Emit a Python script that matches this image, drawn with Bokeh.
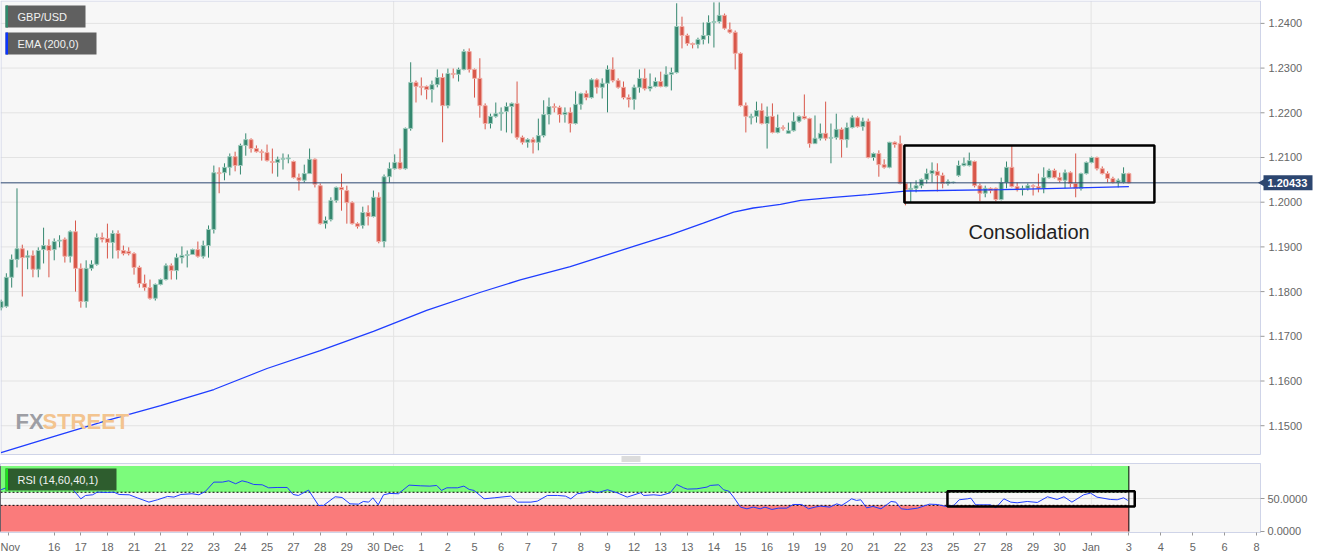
import math
from bokeh.plotting import figure
from bokeh.models import Range1d, FixedTicker, ColumnDataSource, BoxAnnotation, NumeralTickFormatter
from bokeh.layouts import column
from bokeh.embed import file_html
from bokeh.resources import INLINE
from bokeh.core.properties import value

# ---------------- data (4H candles GBP/USD) ----------------
open_ = [1.1764,1.1767,1.1832,1.1872,1.1896,1.1877,1.1881,1.1850,1.1894,1.1903,
         1.1894,1.1913,1.1917,1.1879,1.1934,1.1852,1.1778,1.1852,1.1861,1.1921,
         1.1919,1.1910,1.1930,1.1892,1.1890,1.1885,1.1854,1.1818,1.1809,1.1785,
         1.1816,1.1827,1.1858,1.1847,1.1876,1.1881,1.1883,1.1894,1.1879,1.1903,
         1.1939,1.2066,1.2066,1.2078,1.2102,1.2082,1.2127,1.2140,1.2120,1.2113,
         1.2111,1.2091,1.2089,1.2096,1.2097,1.2091,1.2055,1.2049,1.2064,1.2096,
         1.2037,1.1952,1.1961,1.2004,1.2033,1.2026,1.1999,1.1952,1.1948,1.1977,
         1.1968,1.2011,1.1912,1.2057,1.2075,1.2089,1.2075,1.2165,1.2268,1.2259,
         1.2259,1.2252,1.2263,1.2279,1.2216,1.2288,1.2286,1.2297,1.2337,1.2297,
         1.2277,1.2216,1.2176,1.2192,1.2198,1.2203,1.2214,1.2221,1.2145,1.2134,
         1.2140,1.2134,1.2149,1.2196,1.2214,1.2212,1.2196,1.2201,1.2176,1.2219,
         1.2243,1.2234,1.2274,1.2257,1.2266,1.2297,1.2272,1.2257,1.2234,1.2230,
         1.2257,1.2277,1.2254,1.2259,1.2270,1.2259,1.2286,1.2290,1.2393,1.2373,
         1.2355,1.2353,1.2364,1.2373,1.2402,1.2404,1.2418,1.2386,1.2380,1.2333,
         1.2216,1.2189,1.2192,1.2205,1.2176,1.2192,1.2156,1.2167,1.2154,1.2160,
         1.2181,1.2192,1.2187,1.2131,1.2143,1.2154,1.2143,1.2145,1.2163,1.2140,
         1.2167,1.2189,1.2169,1.2181,1.2100,1.2109,1.2084,1.2078,1.2134,1.2131,
         1.2042,1.2028,1.2031,1.2037,1.2051,1.2064,1.2069,1.2060,1.2042,1.2044,
         1.2060,1.2082,1.2082,1.2091,1.2037,1.2020,1.2031,1.2031,1.2006,1.2044,
         1.2078,1.2035,1.2028,1.2031,1.2037,1.2035,1.2031,1.2055,1.2071,1.2055,
         1.2049,1.2066,1.2042,1.2031,1.2064,1.2089,1.2100,1.2075,1.2064,1.2053,
         1.2044,1.2044,1.2064]
high = [1.1782,1.1841,1.1883,1.2031,1.1905,1.1892,1.1892,1.1899,1.1943,1.1917,
        1.1919,1.1926,1.1921,1.1937,1.1959,1.1863,1.1870,1.1870,1.1930,1.1932,
        1.1952,1.1937,1.1937,1.1903,1.1899,1.1888,1.1858,1.1838,1.1827,1.1818,
        1.1829,1.1863,1.1863,1.1885,1.1901,1.1892,1.1896,1.1912,1.1914,1.1948,
        1.2082,1.2078,1.2087,1.2109,1.2113,1.2131,1.2154,1.2143,1.2127,1.2118,
        1.2129,1.2120,1.2102,1.2109,1.2107,1.2093,1.2064,1.2084,1.2120,1.2098,
        1.2042,1.1968,1.2011,1.2035,1.2064,1.2037,1.2002,1.1955,1.1990,1.1993,
        1.2026,1.2022,1.2062,1.2089,1.2107,1.2120,1.2167,1.2313,1.2272,1.2279,
        1.2261,1.2272,1.2297,1.2288,1.2299,1.2299,1.2301,1.2342,1.2344,1.2299,
        1.2322,1.2221,1.2198,1.2223,1.2212,1.2223,1.2223,1.2270,1.2149,1.2143,
        1.2145,1.2187,1.2228,1.2234,1.2221,1.2216,1.2212,1.2212,1.2248,1.2245,
        1.2250,1.2277,1.2277,1.2277,1.2306,1.2324,1.2277,1.2270,1.2241,1.2263,
        1.2297,1.2299,1.2288,1.2279,1.2292,1.2304,1.2301,1.2445,1.2415,1.2377,
        1.2357,1.2368,1.2402,1.2418,1.2447,1.2447,1.2422,1.2402,1.2384,1.2335,
        1.2223,1.2198,1.2225,1.2221,1.2214,1.2221,1.2196,1.2172,1.2178,1.2201,
        1.2194,1.2241,1.2189,1.2194,1.2176,1.2225,1.2176,1.2198,1.2167,1.2178,
        1.2194,1.2192,1.2189,1.2187,1.2111,1.2116,1.2096,1.2135,1.2136,1.2149,
        1.2044,1.2044,1.2049,1.2053,1.2075,1.2089,1.2087,1.2066,1.2051,1.2046,
        1.2093,1.2100,1.2111,1.2093,1.2042,1.2037,1.2033,1.2033,1.2055,1.2091,
        1.2127,1.2044,1.2037,1.2042,1.2040,1.2064,1.2078,1.2075,1.2075,1.2066,
        1.2073,1.2069,1.2109,1.2066,1.2091,1.2102,1.2102,1.2080,1.2069,1.2057,
        1.2053,1.2078,1.2066]
low = [1.1758,1.1764,1.1809,1.1854,1.1789,1.1850,1.1832,1.1832,1.1863,1.1832,
       1.1870,1.1899,1.1865,1.1865,1.1800,1.1764,1.1764,1.1847,1.1858,1.1910,
       1.1874,1.1874,1.1874,1.1881,1.1881,1.1838,1.1809,1.1802,1.1782,1.1780,
       1.1814,1.1825,1.1827,1.1827,1.1863,1.1854,1.1883,1.1876,1.1874,1.1876,
       1.1930,1.2020,1.2049,1.2060,1.2069,1.2062,1.2104,1.2111,1.2111,1.2093,
       1.2091,1.2064,1.2057,1.2073,1.2087,1.2053,1.2026,1.2044,1.2064,1.2033,
       1.1950,1.1941,1.1957,1.1999,1.1981,1.1952,1.1950,1.1941,1.1941,1.1948,
       1.1966,1.1908,1.1899,1.2044,1.2073,1.2073,1.2073,1.2160,1.2223,1.2239,
       1.2230,1.2223,1.2257,1.2134,1.2210,1.2277,1.2270,1.2295,1.2290,1.2234,
       1.2189,1.2163,1.2165,1.2189,1.2160,1.2156,1.2154,1.2140,1.2129,1.2122,
       1.2109,1.2116,1.2145,1.2174,1.2201,1.2178,1.2178,1.2156,1.2174,1.2207,
       1.2228,1.2232,1.2243,1.2232,1.2201,1.2268,1.2254,1.2230,1.2212,1.2207,
       1.2245,1.2250,1.2248,1.2257,1.2257,1.2257,1.2250,1.2288,1.2344,1.2350,
       1.2344,1.2344,1.2353,1.2355,1.2346,1.2400,1.2386,1.2377,1.2297,1.2214,
       1.2156,1.2174,1.2178,1.2174,1.2120,1.2154,1.2154,1.2160,1.2154,1.2158,
       1.2178,1.2185,1.2122,1.2131,1.2138,1.2138,1.2087,1.2140,1.2100,1.2122,
       1.2165,1.2167,1.2160,1.2098,1.2093,1.2057,1.2075,1.2076,1.2122,1.2040,
       1.1993,1.1999,1.2022,1.2031,1.2042,1.2044,1.2024,1.2031,1.2037,1.2042,
       1.2057,1.2080,1.2080,1.2033,1.2002,1.2011,1.2020,1.2002,1.2004,1.2031,
       1.2033,1.2024,1.2015,1.2026,1.2015,1.2022,1.2020,1.2053,1.2053,1.2044,
       1.2031,1.2033,1.2011,1.2026,1.2062,1.2087,1.2071,1.2062,1.2044,1.2042,
       1.2033,1.2042,1.2042]
close = [1.1778,1.1832,1.1872,1.1896,1.1876,1.1880,1.1850,1.1892,1.1903,1.1892,
         1.1912,1.1915,1.1879,1.1934,1.1852,1.1778,1.1852,1.1861,1.1921,1.1917,
         1.1910,1.1930,1.1892,1.1885,1.1885,1.1854,1.1818,1.1809,1.1785,1.1816,
         1.1827,1.1858,1.1847,1.1876,1.1881,1.1883,1.1894,1.1879,1.1903,1.1939,
         1.2066,1.2064,1.2078,1.2102,1.2082,1.2127,1.2140,1.2120,1.2113,1.2111,
         1.2093,1.2089,1.2096,1.2098,1.2099,1.2055,1.2049,1.2064,1.2096,1.2040,
         1.1952,1.1959,1.2004,1.2033,1.2028,1.1999,1.1952,1.1946,1.1977,1.1968,
         1.2011,1.1912,1.2057,1.2075,1.2089,1.2075,1.2165,1.2268,1.2259,1.2257,
         1.2252,1.2263,1.2279,1.2216,1.2288,1.2286,1.2297,1.2337,1.2297,1.2277,
         1.2216,1.2176,1.2192,1.2198,1.2201,1.2214,1.2221,1.2145,1.2134,1.2140,
         1.2134,1.2149,1.2196,1.2214,1.2212,1.2196,1.2201,1.2176,1.2219,1.2243,
         1.2234,1.2274,1.2257,1.2266,1.2297,1.2272,1.2257,1.2234,1.2230,1.2257,
         1.2277,1.2254,1.2259,1.2270,1.2259,1.2286,1.2290,1.2393,1.2373,1.2355,
         1.2353,1.2364,1.2373,1.2402,1.2404,1.2418,1.2389,1.2380,1.2333,1.2216,
         1.2192,1.2192,1.2205,1.2176,1.2192,1.2156,1.2167,1.2165,1.2160,1.2181,
         1.2192,1.2187,1.2131,1.2143,1.2154,1.2143,1.2145,1.2163,1.2140,1.2167,
         1.2189,1.2169,1.2181,1.2100,1.2109,1.2084,1.2078,1.2134,1.2129,1.2042,
         1.2028,1.2031,1.2037,1.2051,1.2064,1.2071,1.2060,1.2042,1.2046,1.2045,
         1.2082,1.2087,1.2093,1.2037,1.2020,1.2031,1.2026,1.2006,1.2044,1.2078,
         1.2035,1.2028,1.2031,1.2037,1.2035,1.2031,1.2055,1.2071,1.2055,1.2049,
         1.2066,1.2042,1.2031,1.2064,1.2089,1.2100,1.2075,1.2064,1.2053,1.2044,
         1.2049,1.2064,1.20433]

ema_idx = [0, 10, 20, 30, 40, 50, 60, 70, 80, 90, 97.6, 107, 118.9, 125.8, 132, 137.7,
           141.4, 146.5, 150.3, 156.5, 163, 170, 188, 212]
ema_val = [1.1440, 1.1476, 1.1512, 1.1545, 1.1581, 1.1628, 1.1668, 1.1711, 1.1758,
           1.1798, 1.1826, 1.1856, 1.1901, 1.1927, 1.1953, 1.1978, 1.1987, 1.1995,
           1.2004, 1.2011, 1.2017, 1.2025, 1.2028, 1.2035]

rsi_idx = [0.0,1.3,3.1,5.0,6.9,8.1,10.0,11.9,12.8,13.4,15.0,15.9,17.2,18.1,20.0,21.2,22.2,24.1,25.6,27.8,
           29.4,31.3,32.5,33.8,35.9,37.2,38.4,40.0,41.6,42.8,44.1,45.3,46.3,47.5,49.1,50.3,51.9,53.8,54.9,55.9,
           57.8,59.7,60.6,62.8,64.1,65.6,67.2,68.1,69.1,69.9,70.9,71.9,73.1,74.7,76.7,78.8,80.6,81.9,82.8,83.8,
           84.6,85.8,87.0,88.0,88.9,90.8,92.7,95.8,97.1,99.6,100.8,102.7,104.6,106.1,107.1,108.3,109.6,110.8,112.1,114.0,
           115.8,117.7,120.2,120.8,122.7,124.0,125.8,127.0,128.3,129.0,130.8,132.7,133.3,134.9,135.8,136.8,137.7,139.0,140.2,141.4,
           142.7,143.6,144.9,146.1,147.7,148.9,150.5,151.8,153.0,154.0,155.8,157.1,158.0,159.0,159.9,160.8,161.6,162.7,163.9,
           165.4,166.3,167.3,168.2,169.2,170.4,172.3,174.5,176.0,177.6,179.1,180.1,181.7,182.3,183.2,186.0,187.0,188.5,189.8,191.0,
           192.9,194.8,196.7,198.5,199.8,201.3,203.5,204.8,206.0,208.5,209.8,211.0,211.8]
rsi_val = [63.8,67.9,70.4,68.9,66.8,65.3,67.3,66.8,67.9,65.3,50.0,55.1,56.1,60.2,59.7,60.2,56.6,56.1,51.5,44.9,
           48.5,53.6,52.6,56.6,57.7,56.1,61.2,75.5,75.5,77.5,73.0,77.5,75.5,71.9,71.4,66.8,67.3,67.3,56.6,55.1,
           63.3,39.8,39.8,53.1,52.0,42.3,41.8,45.9,44.9,51.5,40.8,56.1,58.2,57.7,70.9,69.9,69.4,70.4,62.8,66.8,
           66.8,66.8,69.4,64.3,62.8,50.0,51.5,54.1,44.9,44.9,46.4,55.1,55.1,54.1,50.0,57.7,59.2,62.2,59.2,63.8,
           59.2,52.6,59.2,55.1,56.1,55.1,59.2,71.9,66.8,64.8,65.3,67.9,70.4,71.4,63.8,61.7,52.6,37.3,34.7,37.3,
           34.7,37.3,33.7,35.7,35.7,41.3,41.3,34.7,37.3,38.8,37.3,42.3,39.8,44.9,50.0,47.5,48.5,36.2,38.3,
           34.7,39.8,45.9,44.9,34.7,33.7,35.7,41.8,41.3,38.3,39.8,48.5,50.0,51.0,40.8,40.8,36.2,50.0,44.9,43.9,
           45.9,44.4,53.1,49.0,53.1,44.9,56.1,58.7,52.6,49.0,48.5,51.5,47.5]

tick_pos = [1.4, 10, 15, 20, 25, 30, 35, 40, 45, 50, 55, 60, 65, 70, 73.8, 79, 84, 89, 94, 99,
            104, 109, 114, 119, 124, 129, 134, 139, 144, 149, 154, 159, 164, 169, 174, 179, 184,
            189, 194, 199, 204.9, 212, 218, 224, 230, 236]
tick_lab = ["Nov", "16", "17", "18", "21", "21", "22", "23", "24", "25", "27", "28", "29", "30",
            "Dec", "1", "2", "5", "6", "7", "7", "8", "9", "12", "13", "13", "14", "15", "16",
            "19", "19", "20", "21", "22", "23", "25", "27", "28", "29", "30", "Jan", "3", "4",
            "5", "6", "8"]
month_pos = [73.8, 204.9]
price_ticks = [1.15, 1.16, 1.17, 1.18, 1.19, 1.20, 1.21, 1.22, 1.23, 1.24]
rsi_ticks = [0, 50]
rsi_upper, rsi_lower = 60, 40

# consolidation boxes (data units)
cons_left, cons_right, cons_low, cons_high = 169.8, 216.8, 1.19993, 1.21268
rsi_box = (177.9, 213.1, 38.2, 61.6)

# ---------------- layout constants ----------------
BAR = 5.32                     # pixels per bar
W, MH, RH = 1331, 462, 69      # figure width, main figure height, RSI frame height
PW, PH = 1260, 454             # plot area (price) width / bottom in pixels
X_START = -0.1
X_END = X_START + W / BAR
Y_END = 1.24512
Y_START = Y_END - MH * 0.0002237
R_START, R_END = -1.53, 103.97
FONT = "Liberation Sans"
BORDER = "#cfd4e8"


def px_x(px):
    return X_START + px * (X_END - X_START) / W


def px_y(py):
    return Y_END - py * (Y_END - Y_START) / MH


def rpx_y(py):
    return R_END - (py - 463) * (R_END - R_START) / RH


def dpx(n):
    return n * (Y_END - Y_START) / MH


p = figure(frame_width=W, frame_height=MH, x_range=Range1d(X_START, X_END),
           y_range=Range1d(Y_START, Y_END), output_backend="svg", toolbar_location=None,
           x_axis_location=None, y_axis_location=None, min_border=0,
           background_fill_color="white", border_fill_color="white", outline_line_color=None)
p.grid.visible = False

XL, XR = px_x(0), px_x(PW)
YT, YB = px_y(0.5), px_y(PH)
# plot area background
p.quad(left=[XL], right=[XR], bottom=[YB], top=[YT], fill_color="#f7f7f7", line_color=None)
# grid
p.segment(x0=[XL] * len(price_ticks), x1=[XR] * len(price_ticks), y0=price_ticks,
          y1=price_ticks, line_color="#e3e3e3", line_width=1)
p.segment(x0=month_pos, x1=month_pos, y0=[YB] * 2, y1=[YT] * 2, line_color="#e3e3e3",
          line_width=1)
# frame border
p.segment(x0=[XL, XL, px_x(0.5), XR], x1=[XR, XR, px_x(0.5), XR], y0=[YT, YB, YB, YB],
          y1=[YT, YB, YT, YT], line_color=BORDER, line_width=1)

# candles
n = len(close)
idx = list(range(n))
up = [c >= o for o, c in zip(open_, close)]
src = ColumnDataSource(dict(
    x=idx, h=high, l=low,
    top=[max(o, c) for o, c in zip(open_, close)],
    bottom=[min(o, c) for o, c in zip(open_, close)],
    color=["#35876f" if u else "#d8574a" for u in up],
    outline=["#9ccabb" if u else "#f0aba3" for u in up],
))
p.segment(x0="x", y0="h", x1="x", y1="l", line_color="color", line_width=1, source=src)
p.vbar(x="x", width=0.74, top="top", bottom="bottom", fill_color="color",
       line_color="outline", line_width=1, source=src)

p.line(ema_idx, ema_val, line_color="#1f3dff", line_width=1.3)

# right price axis (drawn)
p.segment(x0=[XR] * len(price_ticks), x1=[px_x(PW + 4)] * len(price_ticks), y0=price_ticks,
          y1=price_ticks, line_color="#999999", line_width=1)
p.text(x=[px_x(PW + 8)] * len(price_ticks), y=price_ticks,
       text=[f"{t:.4f}" for t in price_ticks], text_font=value(FONT), text_font_size="11px",
       text_color="#666666", text_baseline="middle")

# current price line and tag
last_price = close[-1]
p.segment(x0=[XL], x1=[px_x(PW + 2)], y0=[last_price], y1=[last_price], line_color="#2c4670",
          line_width=1)
p.quad(left=[px_x(PW + 3)], right=[px_x(PW + 52)], bottom=[last_price - dpx(7.5)],
       top=[last_price + dpx(7.5)], fill_color="#2c4670", line_color=None)
p.scatter(x=[px_x(PW + 2)], y=[last_price], marker="triangle", angle=math.pi / 2, size=8,
          fill_color="#2c4670", line_color=None)
p.text(x=[px_x(PW + 7)], y=[last_price], text=[f"{last_price:.5f}"], text_font=value(FONT),
       text_font_size="11px", text_font_style="bold", text_color="white",
       text_baseline="middle")

# consolidation
p.add_layout(BoxAnnotation(left=cons_left, right=cons_right, bottom=cons_low, top=cons_high,
                           fill_alpha=0, line_color="black", line_alpha=1, line_width=2.5))
p.text(x=[px_x(968)], y=[px_y(231)], text=["Consolidation"], text_font=value(FONT),
       text_font_size="20px", text_color="#222222", text_baseline="middle")

# legend boxes
p.quad(left=[px_x(5), px_x(5)], right=[px_x(85), px_x(96)], top=[px_y(5), px_y(32)],
       bottom=[px_y(27), px_y(54)], fill_color="#606060", line_color=None)
p.quad(left=[px_x(5), px_x(5)], right=[px_x(7.5), px_x(7.5)], top=[px_y(5), px_y(32)],
       bottom=[px_y(27), px_y(54)], fill_color=["#2f8a6d", "#0a35ff"], line_color=None)
p.text(x=[px_x(17), px_x(17)], y=[px_y(16.5), px_y(43.5)], text=["GBP/USD", "EMA (200,0)"],
       text_font=value(FONT), text_font_size="11px", text_color="#f2f2f2",
       text_baseline="middle")

# watermark
p.text(x=[px_x(15)], y=[px_y(421)], text=["FX"], text_font=value(FONT),
       text_font_style="bold", text_font_size="22px", text_color="#9d9ea4",
       text_baseline="middle")
p.text(x=[px_x(42)], y=[px_y(421)], text=["STREET"], text_font=value(FONT),
       text_font_style="bold", text_font_size="22px", text_color="#f3c48f",
       text_baseline="middle")

# pane separator handle
hy = [px_y(456.5), px_y(458.5), px_y(460.5)]
p.segment(x0=[px_x(621)] * 3, x1=[px_x(640)] * 3, y0=hy, y1=hy, line_color="#8a8a8a",
          line_width=0.6)

# ---------------- RSI panel ----------------
r = figure(frame_width=PW, frame_height=RH, x_range=Range1d(X_START, px_x(PW)),
           y_range=Range1d(R_START, R_END), output_backend="svg", toolbar_location=None,
           y_axis_location="right", min_border_left=0, min_border_top=1,
           min_border_bottom=26, min_border_right=W - PW,
           background_fill_color="#f7f7f7", border_fill_color="white",
           outline_line_color=BORDER)
last = n - 1
r.quad(left=[X_START], right=[last], bottom=[rsi_upper], top=[100], fill_color="#7cfb7c",
       line_color=None)
r.quad(left=[X_START], right=[last], bottom=[0], top=[rsi_lower], fill_color="#fa7b7b",
       line_color=None)
r.segment(x0=[X_START, X_START], x1=[last, last], y0=[rsi_upper, rsi_lower],
          y1=[rsi_upper, rsi_lower], line_color="black", line_width=1, line_dash="2 2")
r.segment(x0=[X_START, last], x1=[X_START, last], y0=[0, 0], y1=[100, 100],
          line_color="black", line_width=1)
r.line(rsi_idx, rsi_val, line_color="#1f3dff", line_width=1)
r.add_layout(BoxAnnotation(left=rsi_box[0], right=rsi_box[1], bottom=rsi_box[2], top=rsi_box[3],
                           fill_alpha=0, line_color="black", line_alpha=1, line_width=2.5))

r.quad(left=[px_x(5)], right=[px_x(116)], top=[rpx_y(468)], bottom=[rpx_y(490)],
       fill_color="#2e5d2e", line_color=None)
r.quad(left=[px_x(5)], right=[px_x(7.5)], top=[rpx_y(468)], bottom=[rpx_y(490)],
       fill_color="#1ee01e", line_color=None)
r.text(x=[px_x(17)], y=[rpx_y(479)], text=["RSI (14,60,40,1)"], text_font=value(FONT),
       text_font_size="11px", text_color="#f2f2f2", text_baseline="middle")

ry = r.yaxis[0]
ry.ticker = FixedTicker(ticks=rsi_ticks)
ry.formatter = NumeralTickFormatter(format="0.0000")
ry.axis_line_color = BORDER
ry.major_tick_line_color = "#999999"
ry.major_tick_out = 4
ry.major_tick_in = 0
ry.minor_tick_line_color = None
ry.major_label_text_color = "#666666"
ry.major_label_text_font_size = "11px"
ry.major_label_text_font = FONT
ry.major_label_standoff = 3
r.ygrid.ticker = FixedTicker(ticks=[50])
r.ygrid.grid_line_color = "#dedede"

rx = r.xaxis[0]
rx.ticker = FixedTicker(ticks=tick_pos)
rx.major_label_overrides = {t: l for t, l in zip(tick_pos, tick_lab)}
rx.axis_line_color = BORDER
rx.major_tick_line_color = "#999999"
rx.major_tick_out = 3
rx.major_tick_in = 0
rx.minor_tick_line_color = None
rx.major_label_text_color = "#666666"
rx.major_label_text_font_size = "11px"
rx.major_label_text_font = FONT
rx.major_label_standoff = 5
r.xgrid.ticker = FixedTicker(ticks=month_pos)
r.xgrid.grid_line_color = "#e0e0e0"
r.xgrid.grid_line_alpha = 0.6

layout = column(p, r, spacing=0)
open("out.html", "w").write(file_html(layout, INLINE))
